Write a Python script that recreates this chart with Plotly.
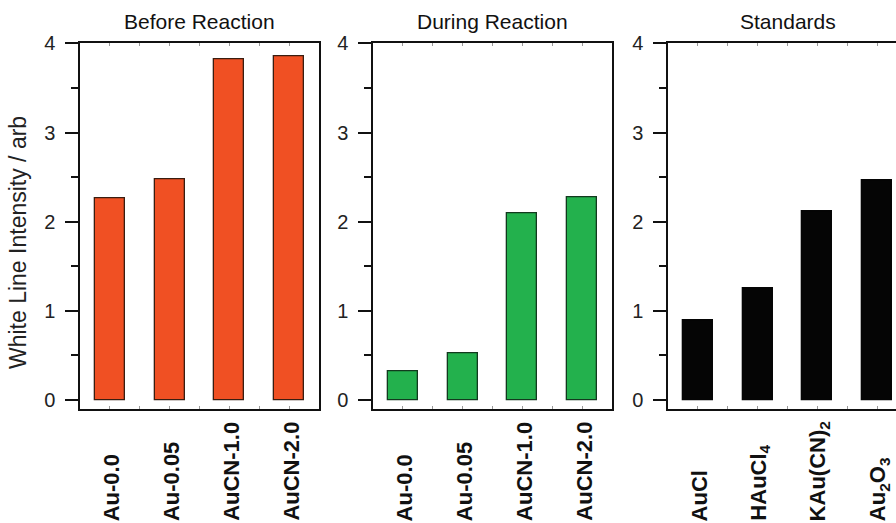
import plotly.graph_objects as go

# ---- data ----
before_labels = ["Au-0.0", "Au-0.05", "AuCN-1.0", "AuCN-2.0"]
before_values = [2.26, 2.48, 3.82, 3.85]

during_labels = ["Au-0.0", "Au-0.05", "AuCN-1.0", "AuCN-2.0"]
during_values = [0.32, 0.53, 2.09, 2.27]

standard_labels = ["AuCl", "HAuCl<sub>4</sub>", "KAu(CN)<sub>2</sub>", "Au<sub>2</sub>O<sub>3</sub>"]
standard_values = [0.89, 1.25, 2.12, 2.46]

panel_titles = ["Before Reaction", "During Reaction", "Standards"]
y_tick_vals = [0, 1, 2, 3, 4]
y_title = "White Line Intensity / arb"

# ---- styling ----
W, H = 896, 523
FONT = "Liberation Sans, Arial, sans-serif"
panels = [
    (before_labels, before_values, "#F05023", "#3a1d10"),
    (during_labels, during_values, "#23B14D", "#123a1e"),
    (standard_labels, standard_values, "#050505", "#050505"),
]
panel_left_px = [80, 373, 668]
panel_width_px = 239
cat_px = panel_width_px / 4.0
top_px, bottom_px = 43.3, 409.0


def fx(p):
    return p / W


def fy(p):
    return 1 - p / H


fig = go.Figure()
annotations = []
for i, (labels, values, color, edge) in enumerate(panels):
    n = i + 1
    xa = "x" if n == 1 else f"x{n}"
    ya = "y" if n == 1 else f"y{n}"
    positions = list(range(len(values)))
    fig.add_trace(go.Bar(
        x=positions, y=values, width=0.5,
        marker=dict(color=color, line=dict(color=edge, width=1.3)),
        xaxis=xa, yaxis=ya, showlegend=False, hoverinfo="y",
    ))
    left = panel_left_px[i]
    right = min(left + panel_width_px, W)
    xmax = -0.5 + (right - left) / cat_px
    xkey = "xaxis" if n == 1 else f"xaxis{n}"
    ykey = "yaxis" if n == 1 else f"yaxis{n}"
    fig.layout[xkey] = dict(
        domain=[fx(left), fx(right)], range=[-0.5, xmax], automargin=False,
        anchor=ya, showline=True, linecolor="#111", linewidth=1.5,
        mirror="allticks", ticks="inside", ticklen=3, tickwidth=1,
        tickcolor="#999", tickvals=[k * 0.5 for k in range(-1, 8)],
        showticklabels=False, showgrid=False, zeroline=False, fixedrange=True,
    )
    fig.layout[ykey] = dict(
        domain=[fy(bottom_px), fy(top_px)], range=[-0.1, 4.0], automargin=False,
        anchor=xa, showline=True, linecolor="#111", linewidth=1.5,
        mirror=(n != 3), ticks="outside", ticklen=13, tickwidth=1.5,
        tickcolor="#111", tickvals=y_tick_vals,
        minor=dict(dtick=0.5, tick0=0, ticks="outside", ticklen=7,
                   tickwidth=1.5, tickcolor="#111"),
        ticklabelstandoff=6,
        tickfont=dict(family=FONT, size=20, color="#222"),
        showgrid=False, zeroline=False, fixedrange=True,
    )
    # panel title
    annotations.append(dict(
        text=panel_titles[i], x=1.5, xref=xa, y=fy(22), yref="paper",
        xanchor="center", yanchor="middle", showarrow=False,
        font=dict(family=FONT, size=21, color="#111"),
    ))
    # category labels (rotated, bottom aligned)
    for p, lab in zip(positions, labels):
        annotations.append(dict(
            text=f"<b>{lab}</b>", x=p, xref=xa, y=fy(523), yref="paper",
            xanchor="center", yanchor="bottom", textangle=-90,
            showarrow=False, xshift=2,
            font=dict(family=FONT, size=22, color="#111"),
        ))

annotations.append(dict(
    text=y_title, x=fx(18), xref="paper", y=fy(243), yref="paper",
    xanchor="center", yanchor="middle", textangle=-90, showarrow=False,
    font=dict(family=FONT, size=23, color="#222"),
))

fig.update_layout(
    width=W, height=H, margin=dict(l=0, r=0, t=0, b=0, pad=0),
    paper_bgcolor="white", plot_bgcolor="white",
    annotations=annotations, bargap=0,
)

fig.write_html(
    "out.html",
    config={"displayModeBar": False},
    post_script="document.body.style.margin='0';document.body.style.overflow='hidden';",
)
